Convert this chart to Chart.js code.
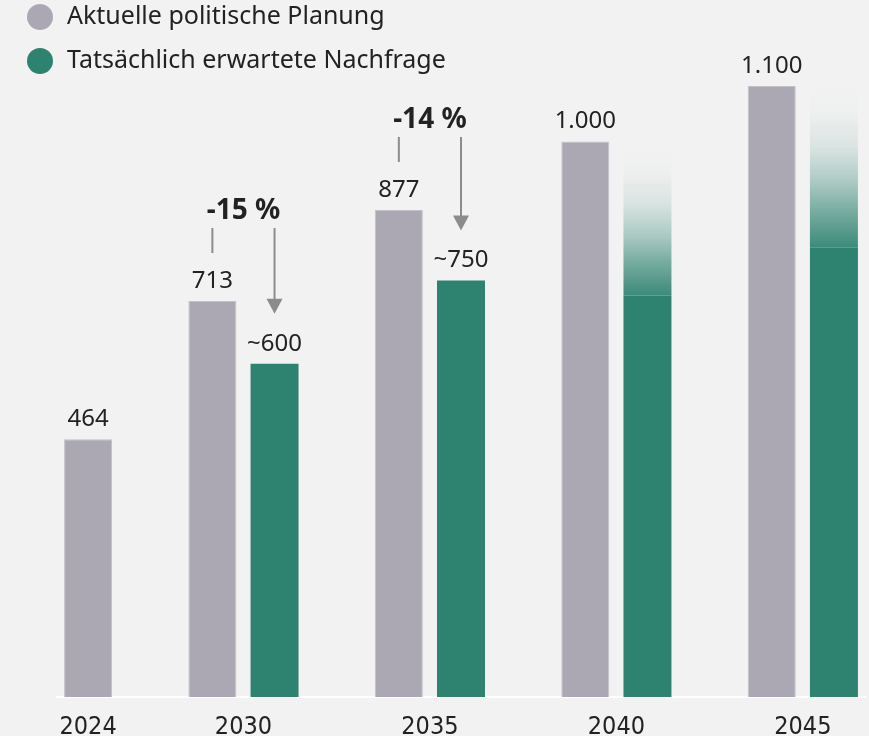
<!DOCTYPE html>
<html>
<head>
<meta charset="utf-8">
<script src="https://cdn.jsdelivr.net/npm/chart.js@4/dist/chart.umd.min.js"></script>
<style>
  html, body { margin: 0; background: #f2f2f2; }
  canvas { display: block; }
</style>
</head>
<body>
<canvas id="chart" width="869" height="736"></canvas>
<script>
// data
const years = ['2024', '2030', '2035', '2040', '2045'];
const planned = [464, 713, 877, 1000, 1100];
const expected = [null, 600, 750, 723, 809];
const expectedOpen = [null, null, null, 277, 301]; // faded, uncertain part on top
const changeLabels = [null, '-15 %', '-14 %', null, null];
const seriesNames = ['Aktuelle politische Planung', 'Tatsächlich erwartete Nachfrage'];

// layout: group position on the x axis (2024 sits closer to 2030)
const slot = [0, 4, 10, 16, 22];
const tickPos = slot.map((s, i) => expected[i] === null ? s - 1 : s);

const GRAY = '#aba8b4';
const GREEN = '#2e8270';
const TEXT = '#222222';
const FONT = '"Noto Sans", "Open Sans", sans-serif';

const fmt = v => String(v).replace(/\B(?=(\d{3})+(?!\d))/g, '.');
const pts = arr => arr.map((v, i) => ({ x: slot[i], y: v }));

function fadeFill(ctx) {
  if (ctx.type !== 'data') return GREEN;
  const i = ctx.dataIndex;
  const y = ctx.chart.scales.y;
  if (!y || expected[i] === null || expectedOpen[i] === null) return GREEN;
  const top = y.getPixelForValue(expected[i] + expectedOpen[i]);
  const bottom = y.getPixelForValue(expected[i]);
  const g = ctx.chart.ctx.createLinearGradient(0, top, 0, bottom);
  g.addColorStop(0, 'rgba(46,130,112,0)');
  g.addColorStop(0.2, 'rgba(46,130,112,0.02)');
  g.addColorStop(0.4, 'rgba(46,130,112,0.12)');
  g.addColorStop(0.6, 'rgba(46,130,112,0.35)');
  g.addColorStop(0.8, 'rgba(46,130,112,0.65)');
  g.addColorStop(1, 'rgba(46,130,112,0.93)');
  return g;
}

const overlay = {
  id: 'overlay',
  afterDatasetsDraw(chart) {
    const c = chart.ctx;
    const grayBars = chart.getDatasetMeta(0).data;
    const greenBars = chart.getDatasetMeta(1).data;
    c.save();
    c.textAlign = 'center';
    c.textBaseline = 'middle';
    c.fillStyle = TEXT;
    c.font = '24px ' + FONT;

    // value labels
    planned.forEach((v, i) => {
      const b = grayBars[i];
      c.fillText(fmt(v), b.x, b.y - 20);
    });
    expected.forEach((v, i) => {
      if (v === null || expectedOpen[i] !== null) return;
      const b = greenBars[i];
      c.fillText('~' + fmt(v), b.x, b.y - 20);
    });

    // change annotations
    changeLabels.forEach((t, i) => {
      if (!t) return;
      const g = grayBars[i], e = greenBars[i];
      c.strokeStyle = '#8c8c8c';
      c.fillStyle = '#8c8c8c';
      c.lineWidth = 2;
      c.beginPath();
      c.moveTo(g.x, g.y - 73);
      c.lineTo(g.x, g.y - 48);
      c.stroke();
      const tip = e.y - 50;
      c.beginPath();
      c.moveTo(e.x, g.y - 73);
      c.lineTo(e.x, tip - 12);
      c.stroke();
      c.beginPath();
      c.moveTo(e.x - 8, tip - 15);
      c.lineTo(e.x + 8, tip - 15);
      c.lineTo(e.x, tip);
      c.closePath();
      c.fill();
      c.fillStyle = TEXT;
      c.font = 'bold 28px ' + FONT;
      c.fillText(t, (g.x + e.x) / 2, g.y - 90);
      c.font = '24px ' + FONT;
    });

    // legend
    c.textAlign = 'left';
    c.font = '25px ' + FONT;
    [GRAY, GREEN].forEach((col, k) => {
      const y = 17 + k * 44;
      c.fillStyle = col;
      c.beginPath();
      c.arc(40, y, 13, 0, Math.PI * 2);
      c.fill();
      c.fillStyle = TEXT;
      c.fillText(seriesNames[k], 67, y);
    });
    c.restore();
  }
};

new Chart(document.getElementById('chart').getContext('2d'), {
  type: 'bar',
  data: {
    datasets: [{
      label: seriesNames[0],
      data: pts(planned),
      backgroundColor: GRAY,
      borderColor: '#c2c0c8',
      borderWidth: { top: 1, left: 1, right: 1, bottom: 0 },
      stack: 'plan'
    }, {
      label: seriesNames[1],
      data: pts(expected),
      backgroundColor: GREEN,
      stack: 'real'
    }, {
      label: seriesNames[1] + ' (offen)',
      data: pts(expectedOpen),
      backgroundColor: fadeFill,
      stack: 'real'
    }]
  },
  options: {
    responsive: false,
    animation: false,
    categoryPercentage: 1,
    barPercentage: 0.772,
    layout: { padding: { left: 57, right: 4, top: 0, bottom: -22 } },
    plugins: { legend: { display: false }, tooltip: { enabled: false } },
    scales: {
      x: {
        type: 'linear',
        min: -2,
        max: 24,
        offset: false,
        grid: { display: false, drawTicks: false },
        border: { display: true, color: '#ffffff', width: 2 },
        afterBuildTicks: s => { s.ticks = tickPos.map(v => ({ value: v })); },
        ticks: {
          autoSkip: false,
          maxRotation: 0,
          padding: 18,
          color: TEXT,
          font: { family: '"DejaVu Sans Condensed", sans-serif', size: 25, lineHeight: 1 },
          callback: (v, i) => years[i]
        }
      },
      y: {
        display: false,
        min: 0,
        max: 1255
      }
    }
  },
  plugins: [overlay]
});
</script>
</body>
</html>
